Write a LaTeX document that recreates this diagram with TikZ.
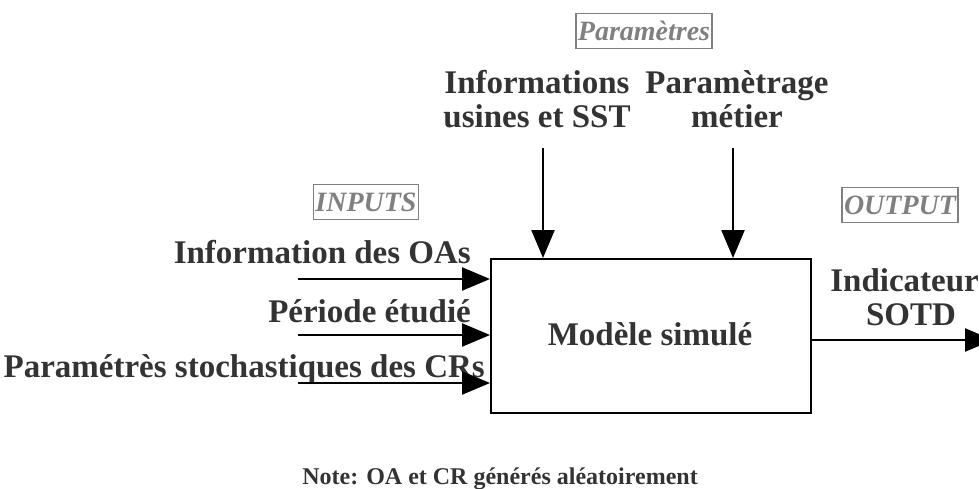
\documentclass[tikz,border=0pt]{standalone}
\usepackage{fontspec}
\setmainfont{Liberation Serif}
\usetikzlibrary{arrows.meta}
\definecolor{txt}{HTML}{333333}
\definecolor{tagc}{HTML}{808080}
\begin{document}
\begin{tikzpicture}[x=1pt,y=-1pt,
  lbl/.style={font=\fontsize{33}{34}\selectfont\bfseries, text=txt, inner sep=0pt, align=center},
  tag/.style={draw=tagc, line width=1.6pt, text=tagc, font=\fontsize{28}{30}\selectfont\bfseries\itshape, inner sep=2pt, minimum height=35pt},
  arr/.style={line width=2.4pt, -{Triangle[length=28pt,width=23pt]}},
  ]
\useasboundingbox (0,0) rectangle (979,489);
\clip (0,0) rectangle (979,489);
% main box
\node[draw, line width=2pt, minimum width=320pt, minimum height=154pt, anchor=north west] (box) at (490,258) {};
\node[lbl, anchor=base] (model) at (650,345) {Modèle simulé};
% tags
\node[tag] (tpar) at (644,31) {Paramètres};
\node[tag] (tin) at (366,202) {INPUTS};
\node[tag] (tout) at (900,205) {OUTPUT};
% inputs
\node[lbl, anchor=base east] (l1) at (471,263) {Information des OAs};
\node[lbl, anchor=base east] (l2) at (471,322) {Période étudié};
\node[lbl, anchor=base east] (l3) at (485,377) {Paramétrès stochastiques des CRs};
\coordinate (i1) at (298,279);
\coordinate (i2) at (298,335);
\coordinate (i3) at (298,383);
\draw[arr] (i1) -- (i1 -| box.west);
\draw[arr] (i2) -- (i2 -| box.west);
\draw[arr] (i3) -- (i3 -| box.west);
% parameters
\node[lbl, anchor=base] (p1) at (537,128) {Informations\\usines et SST};
\node[lbl, anchor=base] (p2) at (737,128) {Paramètrage\\métier};
\coordinate (c1) at (543,148);
\coordinate (c2) at (733,148);
\draw[arr] (c1) -- (c1 |- box.north);
\draw[arr] (c2) -- (c2 |- box.north);
% output
\node[lbl, anchor=base] (o1) at (911,325) {Indicateurs\\SOTD};
\coordinate (oe) at (993,340);
\draw[arr] (box.east |- oe) -- (oe);
% note
\node[font=\fontsize{24}{26}\selectfont\bfseries, text=txt, anchor=base] (note) at (500,484) {Note: OA et CR générés aléatoirement};
\end{tikzpicture}
\end{document}
